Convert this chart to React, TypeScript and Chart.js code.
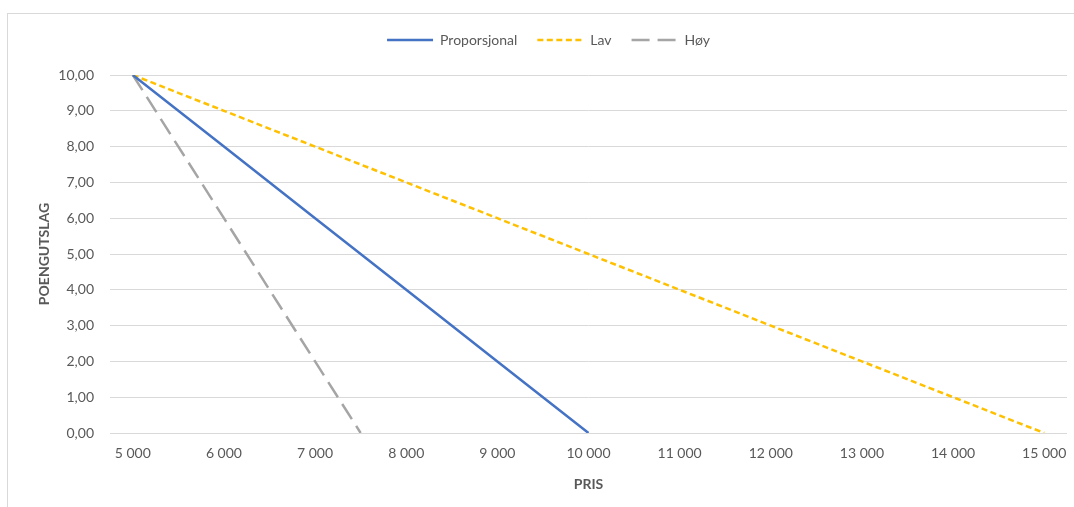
import React, { useEffect, useRef } from "react";
import { Chart, registerables } from "chart.js";

Chart.register(...registerables);

const seriesNames = ["Proporsjonal", "Lav", "Høy"];
const propX = [5000, 6000, 7000, 8000, 9000, 10000];
const propY = [10, 8, 6, 4, 2, 0];
const lavX = [5000, 6000, 7000, 8000, 9000, 10000, 11000, 12000, 13000, 14000, 15000];
const lavY = [10, 9, 8, 7, 6, 5, 4, 3, 2, 1, 0];
const hoyX = [5000, 6000, 7000, 7500];
const hoyY = [10, 6, 2, 0];
const xTicks = [5000, 6000, 7000, 8000, 9000, 10000, 11000, 12000, 13000, 14000, 15000];
const yTicks = [0, 1, 2, 3, 4, 5, 6, 7, 8, 9, 10];
const xTitle = "PRIS";
const yTitle = "POENGUTSLAG";

const FONT = "Lato, 'Open Sans', sans-serif";
const TXT = "#595959";

const toPts = (xs: number[], ys: number[]) => xs.map((x, i) => ({ x, y: ys[i] }));

export default function App() {
  const ref = useRef<HTMLCanvasElement | null>(null);
  useEffect(() => {
    if (!ref.current) return;
    const legendPlugin = {
      id: "legendExtra",
      beforeLayout(chart: any) {
        const lg = chart.legend;
        if (lg && !lg._patched) {
          const orig = lg.fit;
          lg.fit = function () {
            orig.call(this);
            this.height += 18;
          };
          lg._patched = true;
        }
      },
      afterLayout(chart: any) {
        const lg = chart.legend;
        if (lg) {
          lg.left += 15;
          lg.right += 15;
        }
      },
    };
    const chart = new Chart(ref.current, {
      type: "line",
      data: {
        datasets: [
          {
            label: seriesNames[0],
            data: toPts(propX, propY),
            borderColor: "#4472C4",
            backgroundColor: "#4472C4",
            borderWidth: 2.5,
            pointRadius: 0,
            tension: 0,
          },
          {
            label: seriesNames[1],
            data: toPts(lavX, lavY),
            borderColor: "#FFC000",
            backgroundColor: "#FFC000",
            borderWidth: 2.5,
            borderDash: [6, 3.5],
            pointRadius: 0,
            tension: 0,
          },
          {
            label: seriesNames[2],
            data: toPts(hoyX, hoyY),
            borderColor: "#A5A5A5",
            backgroundColor: "#A5A5A5",
            borderWidth: 2.5,
            borderDash: [18, 8],
            pointRadius: 0,
            tension: 0,
          },
        ],
      },
      options: {
        animation: false,
        responsive: false,
        maintainAspectRatio: false,
        layout: { padding: { top: 13, left: 0, right: 7, bottom: 0 } },
        plugins: {
          tooltip: { enabled: false },
          legend: {
            position: "top",
            labels: {
              usePointStyle: true,
              pointStyle: "line",
              pointStyleWidth: 46,
              padding: 20,
              color: TXT,
              font: { family: FONT, size: 14 },
              generateLabels: (c: any) => {
                const items = (Chart.defaults.plugins.legend.labels as any).generateLabels(c);
                return items.map((it: any) => {
                  const ds: any = c.data.datasets[it.datasetIndex];
                  return {
                    ...it,
                    lineDash: ds.borderDash || [],
                    lineWidth: ds.borderWidth,
                    strokeStyle: ds.borderColor,
                    fillStyle: ds.borderColor,
                    pointStyle: "line",
                  };
                });
              },
            },
          },
        },
        scales: {
          x: {
            type: "linear",
            min: 4750,
            max: 15250,
            afterBuildTicks: (scale: any) => {
              scale.ticks = xTicks.map((v) => ({ value: v }));
            },
            afterFit: (scale: any) => {
              scale.height = 74;
              scale.paddingLeft = 0;
              scale.paddingRight = 0;
            },
            grid: { display: false, drawTicks: false },
            border: { display: false },
            ticks: {
              padding: 12,
              color: TXT,
              font: { family: FONT, size: 14 },
              maxRotation: 0,
              autoSkip: false,
              callback: (v: any) => {
                const n = Number(v);
                return n.toString().replace(/\B(?=(\d{3})+(?!\d))/g, " ");
              },
            },
            title: {
              display: true,
              text: xTitle,
              color: TXT,
              font: { family: FONT, size: 14, weight: "bold" },
              padding: { top: 0, bottom: 14.6 },
            },
          },
          y: {
            min: 0,
            max: 10,
            afterBuildTicks: (scale: any) => {
              scale.ticks = yTicks.map((v) => ({ value: v }));
            },
            afterFit: (scale: any) => {
              scale.width = 110;
              scale.paddingTop = 0;
              scale.paddingBottom = 0;
            },
            grid: { color: "#d9d9d9", lineWidth: 1, drawTicks: false },
            border: { display: false },
            ticks: {
              padding: 16,
              color: TXT,
              font: { family: FONT, size: 14 },
              callback: (v: any) => Number(v).toFixed(2).replace(".", ","),
            },
            title: {
              display: true,
              text: yTitle,
              color: TXT,
              font: { family: FONT, size: 14, weight: "bold" },
              padding: { top: 35.6, bottom: 0 },
            },
          },
        },
      },
      plugins: [legendPlugin],
    } as any);
    return () => chart.destroy();
  }, []);

  return (
    <>
      <div
        style={{
          position: "fixed",
          left: 7,
          top: 13,
          width: 2000,
          height: 2000,
          border: "1px solid #d9d9d9",
          background: "#fff",
        }}
      />
      <canvas
        ref={ref}
        width={1074}
        height={507}
        style={{ position: "fixed", left: 0, top: 0, width: 1074, height: 507 }}
      />
    </>
  );
}
